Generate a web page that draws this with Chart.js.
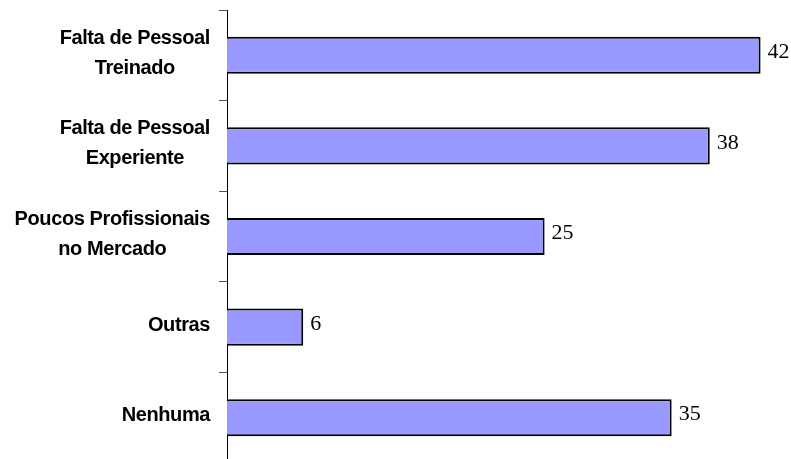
<!DOCTYPE html>
<html>
<head>
<meta charset="utf-8">
<script src="https://cdn.jsdelivr.net/npm/chart.js@4.4.1/dist/chart.umd.min.js"></script>
<style>
  html, body { margin: 0; padding: 0; background: #fff; overflow: hidden; }
  #chart-wrap { width: 791px; height: 463px; }
</style>
</head>
<body>
<div id="chart-wrap">
  <canvas id="myChart" width="791" height="463"></canvas>
</div>
<script>
// categories (multi-line labels) and values
const categories = [
    ["Falta de Pessoal", "Treinado"],
    ["Falta de Pessoal", "Experiente"],
    ["Poucos Profissionais", "no Mercado"],
    ["Outras"],
    ["Nenhuma"]
];
const values = [42, 38, 25, 6, 35];
const xMax = 44;

// draws the category labels: right-aligned block, lines centred in it
const categoryLabels = {
    id: "categoryLabels",
    afterDraw(chart) {
        const ctx = chart.ctx;
        const yScale = chart.scales.y;
        const right = 210;
        const lineHeight = 30;
        ctx.save();
        ctx.font = "bold 20px 'Liberation Sans', Arial, sans-serif";
        ctx.letterSpacing = "-0.4px";
        ctx.fillStyle = "#000";
        ctx.textAlign = "center";
        ctx.textBaseline = "middle";
        categories.forEach((lines, i) => {
            const y = yScale.getPixelForValue(i) - 2;
            const w = Math.max(...lines.map(l => ctx.measureText(l).width));
            const cx = right - w / 2;
            lines.forEach((line, k) => {
                ctx.fillText(line, cx, y + (k - (lines.length - 1) / 2) * lineHeight);
            });
        });
        ctx.restore();
    }
};

// value labels at the end of each bar
const valueLabels = {
    id: "valueLabels",
    afterDatasetsDraw(chart) {
        const ctx = chart.ctx;
        const meta = chart.getDatasetMeta(0);
        ctx.save();
        ctx.font = "22px 'Liberation Serif', 'Times New Roman', serif";
        ctx.fillStyle = "#000";
        ctx.textAlign = "left";
        ctx.textBaseline = "middle";
        meta.data.forEach((bar, i) => {
            ctx.fillText(String(values[i]), bar.x + 7, bar.y - 3);
        });
        ctx.restore();
    }
};

const myChartRef = document.getElementById("myChart").getContext("2d");

new Chart(myChartRef, {
    type: "bar",
    data: {
        labels: categories,
        datasets: [
            {
                data: values,
                backgroundColor: "#9999ff",
                borderColor: "#000000",
                borderWidth: 2,
                barPercentage: 0.41,
                categoryPercentage: 1
            }
        ]
    },
    options: {
        indexAxis: "y",
        responsive: false,
        animation: false,
        layout: {
            padding: { top: 10, right: 5, bottom: 0, left: 0 }
        },
        plugins: {
            legend: { display: false },
            tooltip: { enabled: false }
        },
        scales: {
            x: {
                display: false,
                min: 0,
                max: xMax
            },
            y: {
                ticks: { display: false },
                grid: {
                    offset: true,
                    drawOnChartArea: false,
                    drawTicks: true,
                    tickLength: 8,
                    color: "#555555",
                    lineWidth: 1
                },
                border: { display: true, color: "#000000", width: 1 },
                afterFit(scale) {
                    scale.width = 227;
                }
            }
        }
    },
    plugins: [categoryLabels, valueLabels]
});
</script>
</body>
</html>
